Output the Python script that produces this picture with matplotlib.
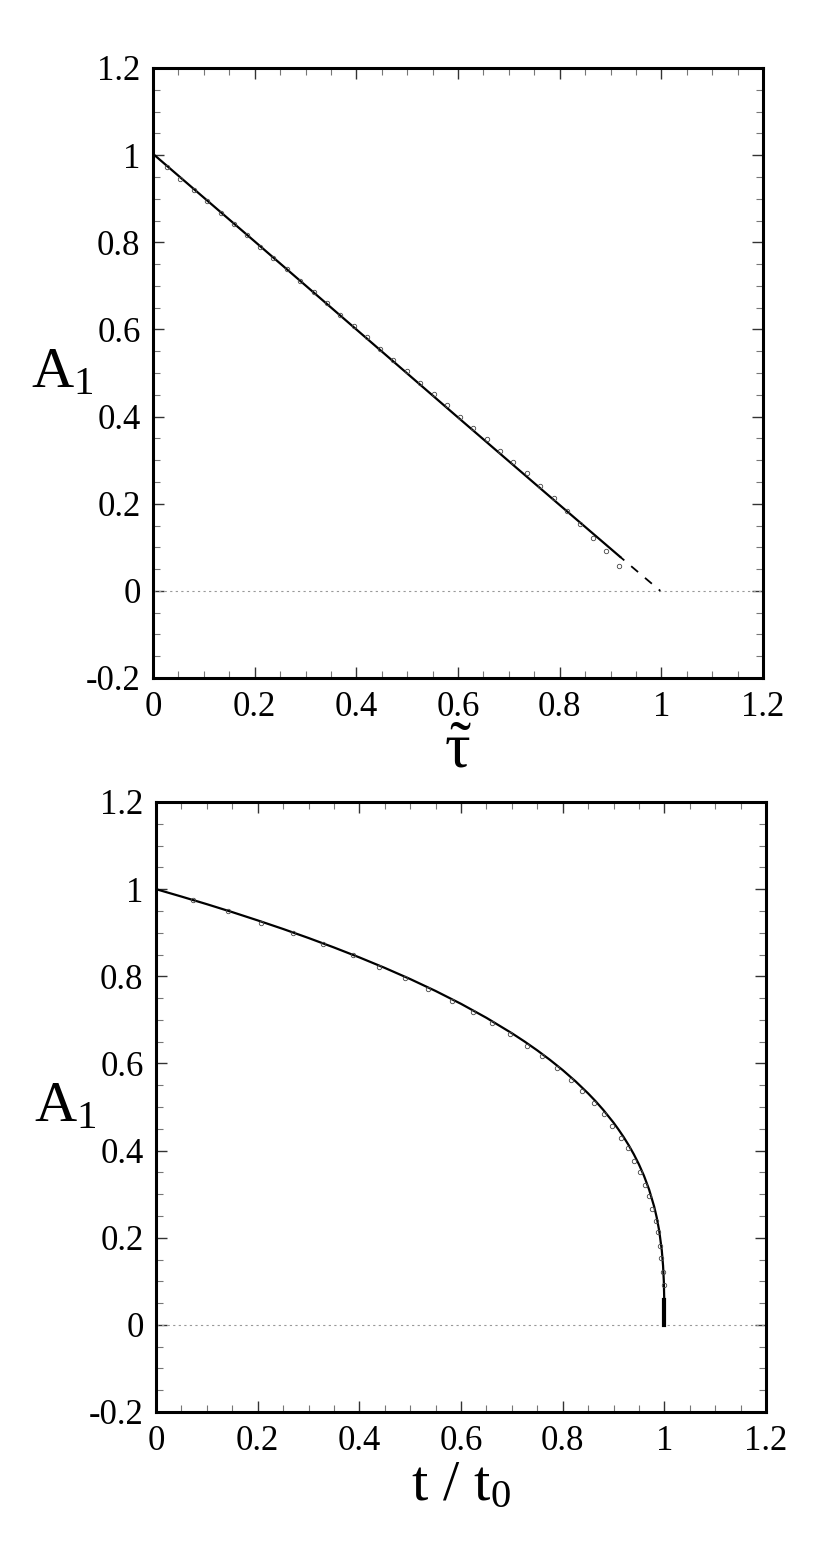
import matplotlib
matplotlib.use('Agg')
import matplotlib.pyplot as plt
from matplotlib.ticker import MultipleLocator, FuncFormatter

plt.rcParams['font.family'] = ['Liberation Serif', 'DejaVu Serif']
plt.rcParams['mathtext.fontset'] = 'custom'
plt.rcParams['mathtext.rm'] = 'Liberation Serif'
plt.rcParams['mathtext.it'] = 'Liberation Serif'

# top panel: A1 vs tilde tau
tau_line = [0.0, 0.2, 0.4, 0.6, 0.8, 0.919]
a_line_top = [1.003, 0.802, 0.600, 0.398, 0.197, 0.078]
tau_dash = [0.919, 0.998]
a_dash = [0.078, 0.0]

tau_pts = [0.028, 0.054, 0.080, 0.106, 0.133, 0.159, 0.185, 0.211, 0.237, 0.264,
           0.290, 0.316, 0.342, 0.368, 0.395, 0.421, 0.447, 0.473, 0.499, 0.526,
           0.552, 0.578, 0.604, 0.630, 0.657, 0.683, 0.709, 0.735, 0.761, 0.788,
           0.814, 0.840, 0.866, 0.892, 0.917]
a_pts_top = [0.972, 0.946, 0.920, 0.894, 0.868, 0.842, 0.816, 0.790, 0.764, 0.738,
             0.712, 0.686, 0.660, 0.634, 0.608, 0.582, 0.556, 0.530, 0.504, 0.478,
             0.452, 0.426, 0.400, 0.374, 0.348, 0.322, 0.296, 0.270, 0.240, 0.213,
             0.184, 0.153, 0.122, 0.092, 0.057]

# bottom panel: A1 vs t/t0
t_line = [0.0, 0.05, 0.1, 0.15, 0.2, 0.25, 0.3, 0.35, 0.4, 0.45, 0.5, 0.55, 0.6,
          0.65, 0.7, 0.725, 0.75, 0.775, 0.8, 0.825, 0.85, 0.865, 0.88, 0.9, 0.91,
          0.92, 0.93, 0.94, 0.95, 0.96, 0.97, 0.98, 0.985, 0.99, 0.995, 0.9975,
          0.999, 0.9998]
a_line_bot = [1.0, 0.9830, 0.9655, 0.9473, 0.9283, 0.9086, 0.8879, 0.8662, 0.8434,
              0.8193, 0.7937, 0.7663, 0.7368, 0.7047, 0.6694, 0.6503, 0.6300,
              0.6082, 0.5848, 0.5593, 0.5313, 0.5130, 0.4932, 0.4642, 0.4481,
              0.4309, 0.4121, 0.3915, 0.3684, 0.3420, 0.3107, 0.2714, 0.2466,
              0.2154, 0.1710, 0.1357, 0.100, 0.058]
t_end = [1.0, 1.0]
a_end = [0.058, 0.0]

t_pts = [0.073, 0.142, 0.207, 0.270, 0.329, 0.387, 0.439, 0.490, 0.535, 0.582,
         0.623, 0.660, 0.696, 0.730, 0.759, 0.788, 0.816, 0.839, 0.862, 0.881,
         0.898, 0.914, 0.928, 0.941, 0.952, 0.961, 0.970, 0.976, 0.983, 0.987,
         0.991, 0.994, 0.997, 0.999]
a_pts_bot = [0.975, 0.949, 0.923, 0.900, 0.874, 0.848, 0.822, 0.796, 0.771, 0.744,
             0.719, 0.692, 0.667, 0.641, 0.616, 0.589, 0.562, 0.536, 0.510, 0.485,
             0.457, 0.430, 0.405, 0.376, 0.350, 0.321, 0.295, 0.267, 0.239, 0.212,
             0.182, 0.153, 0.122, 0.092]

fig = plt.figure(figsize=(8.3, 15.52), dpi=100)
ax1 = fig.add_axes([153 / 830, 1 - 678 / 1552, 610 / 830, 610 / 1552])
ax2 = fig.add_axes([156 / 830, 1 - 1412 / 1552, 610 / 830, 610 / 1552])


def style(ax):
    ax.set_xlim(0, 1.2)
    ax.set_ylim(-0.2, 1.2)
    ax.xaxis.set_major_locator(MultipleLocator(0.2))
    ax.xaxis.set_minor_locator(MultipleLocator(0.05))
    ax.yaxis.set_major_locator(MultipleLocator(0.2))
    ax.yaxis.set_minor_locator(MultipleLocator(0.05))
    fmt = FuncFormatter(lambda v, p: '{:g}'.format(round(v, 2)).replace('\u2212', '-'))
    ax.xaxis.set_major_formatter(fmt)
    ax.yaxis.set_major_formatter(fmt)
    ax.tick_params(which='both', direction='in', top=True, right=True, labelsize=25)
    ax.tick_params(which='major', length=8, width=1.0, color='#333333')
    ax.tick_params(which='minor', length=5, width=0.8, color='#777777')
    ax.tick_params(axis='x', which='major', pad=9)
    ax.tick_params(axis='y', which='major', pad=9)
    for s in ax.spines.values():
        s.set_linewidth(2.2)
    ax.axhline(0, color='#999999', lw=0.8, ls=(0, (2, 3)))
    ax.text(-0.2, 0.5, r'$\mathrm{A}_1$', transform=ax.transAxes, fontsize=42,
            ha='left', va='center')


style(ax1)
ax1.plot(tau_line, a_line_top, color='black', lw=1.6)
ax1.plot(tau_dash, a_dash, color='black', lw=1.3, ls=(2, (5, 5)))
ax1.plot(tau_pts, a_pts_top, ls='none', marker='o', ms=3.2, mfc='none',
         mec='#444444', mew=0.6)
ax1.set_xlabel(r'$\tilde{\tau}$', fontsize=46, labelpad=0)

style(ax2)
ax2.plot(t_line, a_line_bot, color='black', lw=1.6)
ax2.plot(t_end, a_end, color='black', lw=3)
ax2.plot(t_pts, a_pts_bot, ls='none', marker='o', ms=3.2, mfc='none',
         mec='#444444', mew=0.6)
ax2.set_xlabel(r'$\mathrm{t\ /\ t}_0$', fontsize=42, labelpad=2)

fig.savefig('out.png', dpi=100)
